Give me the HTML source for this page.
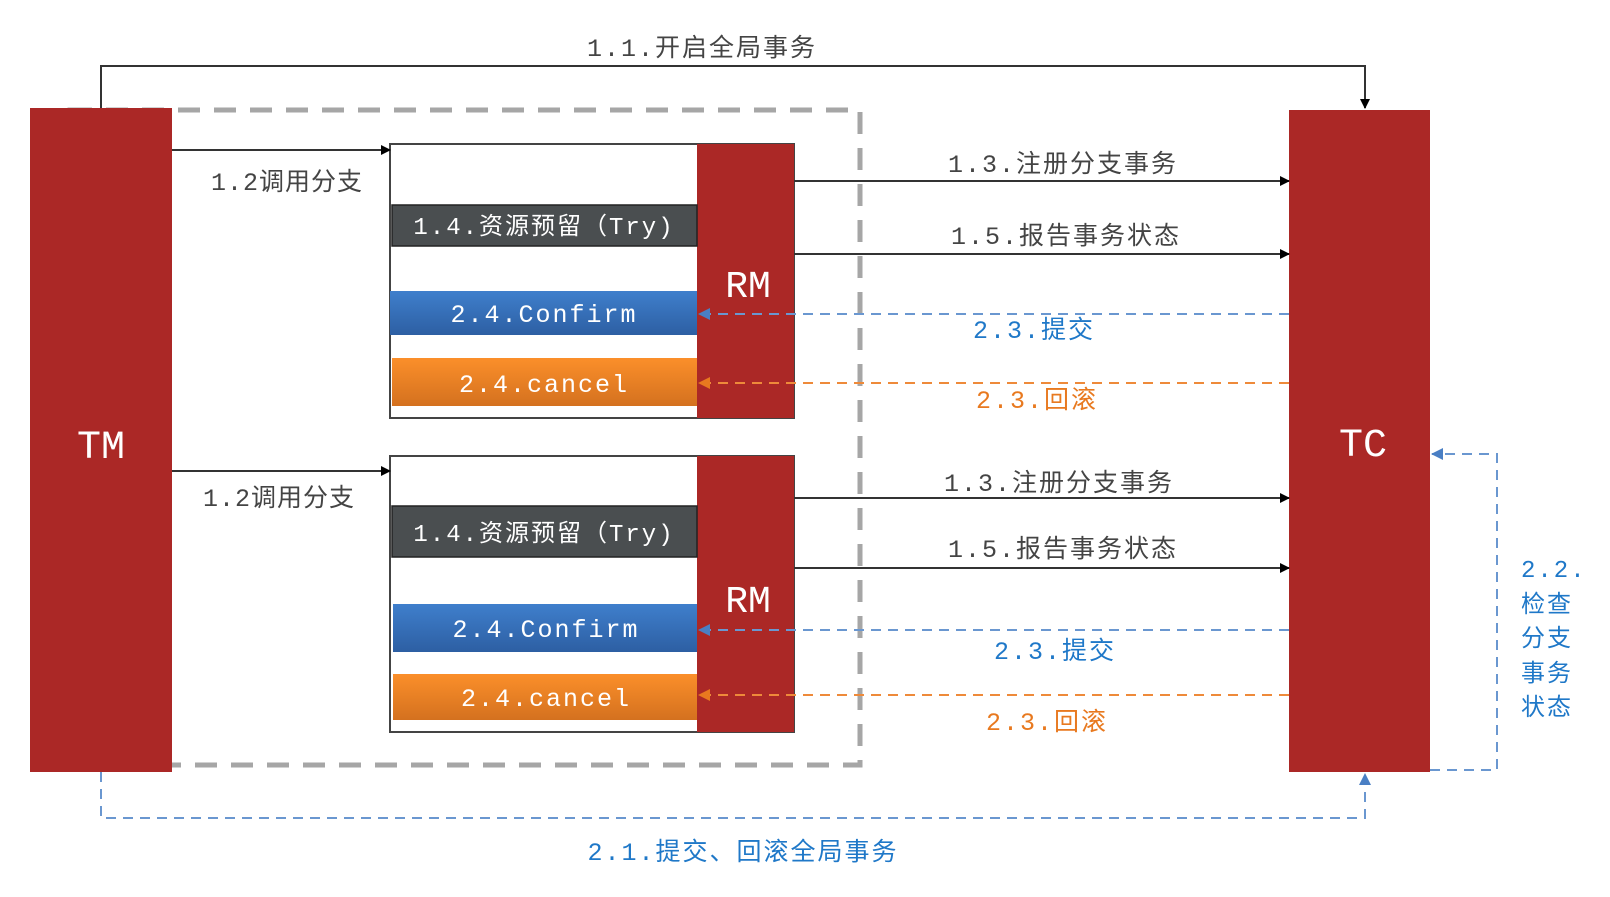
<!DOCTYPE html>
<html><head><meta charset="utf-8"><style>
html,body{margin:0;padding:0;background:#fff;}
svg{display:block;}
text{font-family:"Liberation Mono","Noto Sans CJK SC",monospace;}
</style></head><body>
<svg width="1610" height="897" viewBox="0 0 1610 897" xmlns="http://www.w3.org/2000/svg">
<defs>
<linearGradient id="gb" x1="0" y1="0" x2="0" y2="1"><stop offset="0" stop-color="#3f7fcc"/><stop offset="1" stop-color="#2d5fa3"/></linearGradient>
<linearGradient id="go" x1="0" y1="0" x2="0" y2="1"><stop offset="0" stop-color="#fb8f2a"/><stop offset="1" stop-color="#d4711f"/></linearGradient>
<marker id="ak" markerWidth="10" markerHeight="10" refX="9" refY="5" orient="auto" markerUnits="userSpaceOnUse"><path d="M0,0 L10,5 L0,10z" fill="#000"/></marker>
<marker id="ab" markerWidth="12" markerHeight="12" refX="11" refY="6" orient="auto" markerUnits="userSpaceOnUse"><path d="M0,0 L12,6 L0,12z" fill="#4a7fc4"/></marker>
<marker id="ao" markerWidth="12" markerHeight="12" refX="11" refY="6" orient="auto" markerUnits="userSpaceOnUse"><path d="M0,0 L12,6 L0,12z" fill="#e8791f"/></marker>
</defs>

<!-- dashed group box -->
<rect x="70" y="110" width="790" height="655" fill="none" stroke="#a6a6a6" stroke-width="5" stroke-dasharray="22,14"/>

<!-- TM / TC -->
<rect x="30" y="108" width="142" height="664" fill="#ab2826"/>
<text x="101" y="458" fill="#fff" font-size="40" text-anchor="middle">TM</text>
<rect x="1289" y="110" width="141" height="662" fill="#ab2826"/>
<text x="1363" y="456" fill="#fff" font-size="40" text-anchor="middle">TC</text>

<!-- top arrow 1.1 -->
<path d="M101,108 V66 H1365 V108" fill="none" stroke="#333" stroke-width="2" marker-end="url(#ak)"/>
<text x="702" y="56" fill="#444" font-size="25" text-anchor="middle" letter-spacing="2">1.1.开启全局事务</text>

<!-- upper RM block -->
<rect x="390" y="144" width="404" height="274" fill="#fff" stroke="#444" stroke-width="2"/>
<rect x="697" y="144" width="97" height="274" fill="#ab2826"/>
<text x="748" y="297" fill="#fff" font-size="38" text-anchor="middle">RM</text>
<rect x="392" y="205" width="305" height="41" fill="#4a4e50" stroke="#222" stroke-width="1.5"/>
<text x="544" y="234" fill="#fff" font-size="24" text-anchor="middle" letter-spacing="2">1.4.资源预留（Try)</text>
<rect x="390" y="291" width="307" height="44" fill="url(#gb)"/>
<text x="544" y="322" fill="#fff" font-size="25" text-anchor="middle" letter-spacing="2">2.4.Confirm</text>
<rect x="392" y="358" width="305" height="48" fill="url(#go)"/>
<text x="544" y="392" fill="#fff" font-size="25" text-anchor="middle" letter-spacing="2">2.4.cancel</text>

<!-- lower RM block -->
<rect x="390" y="456" width="404" height="276" fill="#fff" stroke="#444" stroke-width="2"/>
<rect x="697" y="456" width="97" height="276" fill="#ab2826"/>
<text x="748" y="612" fill="#fff" font-size="38" text-anchor="middle">RM</text>
<rect x="392" y="506" width="305" height="51" fill="#4a4e50" stroke="#222" stroke-width="1.5"/>
<text x="544" y="541" fill="#fff" font-size="24" text-anchor="middle" letter-spacing="2">1.4.资源预留（Try)</text>
<rect x="393" y="604" width="304" height="48" fill="url(#gb)"/>
<text x="546" y="637" fill="#fff" font-size="25" text-anchor="middle" letter-spacing="2">2.4.Confirm</text>
<rect x="393" y="674" width="304" height="46" fill="url(#go)"/>
<text x="546" y="706" fill="#fff" font-size="25" text-anchor="middle" letter-spacing="2">2.4.cancel</text>

<!-- call arrows -->
<line x1="172" y1="150" x2="390" y2="150" stroke="#333" stroke-width="2" marker-end="url(#ak)"/>
<text x="287" y="190" fill="#444" font-size="25" text-anchor="middle" letter-spacing="1">1.2调用分支</text>
<line x1="172" y1="471" x2="390" y2="471" stroke="#333" stroke-width="2" marker-end="url(#ak)"/>
<text x="279" y="506" fill="#444" font-size="25" text-anchor="middle" letter-spacing="1">1.2调用分支</text>

<!-- upper RM <-> TC -->
<line x1="794" y1="181" x2="1289" y2="181" stroke="#333" stroke-width="2" marker-end="url(#ak)"/>
<text x="1063" y="172" fill="#444" font-size="25" text-anchor="middle" letter-spacing="2">1.3.注册分支事务</text>
<line x1="794" y1="254" x2="1289" y2="254" stroke="#333" stroke-width="2" marker-end="url(#ak)"/>
<text x="1066" y="244" fill="#444" font-size="25" text-anchor="middle" letter-spacing="2">1.5.报告事务状态</text>
<line x1="1289" y1="314" x2="699" y2="314" stroke="#6a97d0" stroke-width="2" stroke-dasharray="10,7" marker-end="url(#ab)"/>
<text x="1034" y="338" fill="#1f78c8" font-size="25" text-anchor="middle" letter-spacing="2">2.3.提交</text>
<line x1="1289" y1="383" x2="699" y2="383" stroke="#ee8a3a" stroke-width="2" stroke-dasharray="10,7" marker-end="url(#ao)"/>
<text x="1037" y="408" fill="#e8791f" font-size="25" text-anchor="middle" letter-spacing="2">2.3.回滚</text>

<!-- lower RM <-> TC -->
<line x1="794" y1="498" x2="1289" y2="498" stroke="#333" stroke-width="2" marker-end="url(#ak)"/>
<text x="1059" y="491" fill="#444" font-size="25" text-anchor="middle" letter-spacing="2">1.3.注册分支事务</text>
<line x1="794" y1="568" x2="1289" y2="568" stroke="#333" stroke-width="2" marker-end="url(#ak)"/>
<text x="1063" y="557" fill="#444" font-size="25" text-anchor="middle" letter-spacing="2">1.5.报告事务状态</text>
<line x1="1289" y1="630" x2="699" y2="630" stroke="#6a97d0" stroke-width="2" stroke-dasharray="10,7" marker-end="url(#ab)"/>
<text x="1055" y="659" fill="#1f78c8" font-size="25" text-anchor="middle" letter-spacing="2">2.3.提交</text>
<line x1="1289" y1="695" x2="699" y2="695" stroke="#ee8a3a" stroke-width="2" stroke-dasharray="10,7" marker-end="url(#ao)"/>
<text x="1047" y="730" fill="#e8791f" font-size="25" text-anchor="middle" letter-spacing="2">2.3.回滚</text>

<!-- 2.2 loop -->
<path d="M1430,770 H1497 V454 H1432" fill="none" stroke="#6a97d0" stroke-width="2" stroke-dasharray="10,7" marker-end="url(#ab)"/>
<g fill="#1f78c8" font-size="24" letter-spacing="2">
<text x="1521" y="577">2.2.</text>
<text x="1521" y="612">检查</text>
<text x="1521" y="646">分支</text>
<text x="1521" y="681">事务</text>
<text x="1521" y="715">状态</text>
</g>

<!-- bottom 2.1 -->
<path d="M101,772 V818 H1365 V774" fill="none" stroke="#6a97d0" stroke-width="2" stroke-dasharray="10,7" marker-end="url(#ab)"/>
<text x="743" y="860" fill="#1f78c8" font-size="25" text-anchor="middle" letter-spacing="2">2.1.提交、回滚全局事务</text>
</svg>
</body></html>
